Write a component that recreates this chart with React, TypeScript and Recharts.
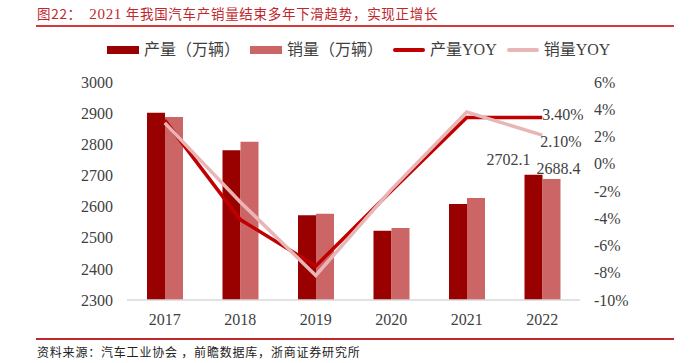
import { Bar, ComposedChart, LabelList, Legend, Line, XAxis, YAxis } from "recharts";

const years = ["2017", "2018", "2019", "2020", "2021", "2022"];
const production = [2901.5, 2780.9, 2572.1, 2522.5, 2608.2, 2702.1];
const sales = [2887.9, 2808.1, 2576.9, 2531.1, 2627.5, 2688.4];
const productionYoy = [3.2, -4.1, -7.5, -2.0, 3.4, 3.4];
const salesYoy = [3.0, -2.8, -8.2, -1.9, 3.8, 2.1];
const productionLabels = [null, null, null, null, null, "2702.1"];
const salesLabels = [null, null, null, null, null, "2688.4"];
const productionYoyLabels = [null, null, null, null, null, "3.40%"];
const salesYoyLabels = [null, null, null, null, null, "2.10%"];
const leftTicks = [2300, 2400, 2500, 2600, 2700, 2800, 2900, 3000];
const rightTicks = [-10, -8, -6, -4, -2, 0, 2, 4, 6];

const data = years.map((year, i) => ({
  year,
  production: production[i],
  sales: sales[i],
  productionYoy: productionYoy[i],
  salesYoy: salesYoy[i],
  productionLabel: productionLabels[i],
  salesLabel: salesLabels[i],
  productionYoyLabel: productionYoyLabels[i],
  salesYoyLabel: salesYoyLabels[i],
}));

const SERIF = "'Liberation Serif', 'Times New Roman', 'Noto Sans CJK SC', serif";
const CJK = "'Noto Sans CJK SC', 'Liberation Serif', serif";
const RED = "#C0272D";
const TEXT = "#3F3F3F";

const legendItems = [
  { name: "产量（万辆）", color: "#990000", kind: "rect" },
  { name: "销量（万辆）", color: "#CC6666", kind: "rect" },
  { name: "产量YOY", color: "#C00000", kind: "line" },
  { name: "销量YOY", color: "#E8B6B6", kind: "line" },
];

function ChartLegend() {
  return (
    <div style={{ display: "flex", alignItems: "center", fontFamily: CJK, fontSize: 16, color: TEXT }}>
      {legendItems.map((item) => (
        <div key={item.name} style={{ display: "flex", alignItems: "center", marginRight: 10 }}>
          <span
            style={{
              display: "inline-block",
              width: 32,
              height: item.kind === "rect" ? 8 : 4,
              borderRadius: item.kind === "line" ? 2 : 0,
              background: item.color,
              marginRight: 5,
            }}
          />
          <span style={{ fontFamily: SERIF, lineHeight: "20px" }}>
            {item.name.replace("YOY", "")}
            {item.name.includes("YOY") ? "YOY" : ""}
          </span>
        </div>
      ))}
    </div>
  );
}

function makeLabel(dx: number, dy: number, bar: boolean) {
  return (props: any) => {
    const { x, y, width, value } = props;
    if (value == null) return null;
    const cx = bar ? x + width / 2 + dx : x + dx;
    return (
      <text
        x={cx}
        y={y + dy}
        textAnchor={bar ? "middle" : "start"}
        dominantBaseline="central"
        fontFamily={SERIF}
        fontSize={16}
        fill={TEXT}
      >
        {value}
      </text>
    );
  };
}

export default function App() {
  return (
    <div style={{ position: "relative", width: 689, height: 363, background: "#fff" }}>
      <style>{`body{margin:0}`}</style>
      <div
        style={{
          position: "absolute",
          left: 37,
          top: 4,
          fontFamily: CJK,
          fontSize: 13.5,
          letterSpacing: 0.7,
          color: RED,
          whiteSpace: "nowrap",
          lineHeight: "18px",
        }}
      >
        图22：&nbsp;&nbsp;<span style={{ fontFamily: SERIF, fontSize: 15 }}>2021</span> 年我国汽车产销量结束多年下滑趋势，实现正增长
      </div>
      <div style={{ position: "absolute", left: 36, top: 25, width: 638, height: 2, background: "#D33A3A" }} />
      <div style={{ position: "absolute", left: 36, top: 338, width: 638, height: 1.5, background: RED }} />
      <div
        style={{
          position: "absolute",
          left: 37,
          top: 344,
          fontFamily: CJK,
          fontSize: 12,
          letterSpacing: 0.8,
          color: "#222",
          whiteSpace: "nowrap",
          lineHeight: "16px",
        }}
      >
        资料来源：汽车工业协会 ，前瞻数据库，浙商证券研究所
      </div>
      <ComposedChart
        width={689}
        height={363}
        data={data}
        margin={{ top: 82, right: 59, bottom: 33, left: 67 }}
        barGap={0}
        style={{ position: "absolute", left: 0, top: 0 }}
      >
        <XAxis
          dataKey="year"
          axisLine={{ stroke: "#D9D9D9", strokeWidth: 1.5 }}
          tickLine={false}
          tickMargin={8}
          height={30}
          tick={{ fontFamily: SERIF, fontSize: 16, fill: TEXT }}
        />
        <YAxis
          yAxisId="left"
          domain={[2300, 3000]}
          ticks={leftTicks}
          axisLine={false}
          tickLine={false}
          tickMargin={8}
          width={60}
          interval={0}
          tick={{ fontFamily: SERIF, fontSize: 16, fill: TEXT }}
        />
        <YAxis
          yAxisId="right"
          orientation="right"
          domain={[-10, 6]}
          ticks={rightTicks}
          axisLine={false}
          tickLine={false}
          tickMargin={8}
          width={50}
          interval={0}
          tickFormatter={(v: number) => `${v}%`}
          tick={{ fontFamily: SERIF, fontSize: 16, fill: TEXT }}
        />
        <Legend
          layout="horizontal"
          verticalAlign="middle"
          align="center"
          wrapperStyle={{ top: 40, left: 107, width: 560 }}
          content={<ChartLegend />}
        />
        <Bar yAxisId="left" dataKey="production" name="产量（万辆）" fill="#990000" barSize={18} isAnimationActive={false}>
          <LabelList dataKey="productionLabel" content={makeLabel(-25, -15, true)} />
        </Bar>
        <Bar yAxisId="left" dataKey="sales" name="销量（万辆）" fill="#CC6666" barSize={18} isAnimationActive={false}>
          <LabelList dataKey="salesLabel" content={makeLabel(7, -11, true)} />
        </Bar>
        <Line
          yAxisId="right"
          type="linear"
          dataKey="productionYoy"
          name="产量YOY"
          stroke="#C00000"
          strokeWidth={3.5}
          dot={false}
          isAnimationActive={false}
        >
          <LabelList dataKey="productionYoyLabel" content={makeLabel(0, -3, false)} />
        </Line>
        <Line
          yAxisId="right"
          type="linear"
          dataKey="salesYoy"
          name="销量YOY"
          stroke="#E8B6B6"
          strokeWidth={3.5}
          dot={false}
          isAnimationActive={false}
        >
          <LabelList dataKey="salesYoyLabel" content={makeLabel(-2, 6, false)} />
        </Line>
      </ComposedChart>
    </div>
  );
}
